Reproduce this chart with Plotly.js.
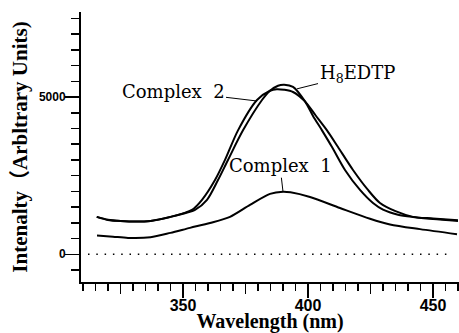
<!DOCTYPE html>
<html>
<head>
<meta charset="utf-8">
<script src="https://cdn.plot.ly/plotly-3.0.1.min.js"></script>
<style>html,body{margin:0;padding:0;background:#fff;}#chart{width:459px;height:333px;}</style>
</head>
<body>
<div id="chart"></div>
<script>
// Complex 2
const c2Wavelength = [315.5, 320, 325, 331, 337, 345, 350, 353.6, 357.6, 362.8, 366.8, 372, 379.6, 384.8, 387.5, 390.5, 394, 398.8, 403, 407.6, 412, 418, 424, 428.8, 435, 442, 450, 460];
const c2Intensity  = [1190, 1100, 1060, 1040, 1060, 1190, 1300, 1410, 1730, 2360, 3000, 3940, 4905, 5200, 5250, 5230, 5160, 4860, 4420, 3940, 3410, 2680, 2045, 1630, 1370, 1190, 1140, 1080];
// H8EDTP
const hWavelength = [315.5, 320, 325, 331, 337, 345, 350, 354.8, 359.6, 364, 368, 374, 381.6, 384.8, 388, 390.5, 394, 398.8, 402, 405.6, 409.6, 414.8, 420.8, 426, 430, 436, 442, 450, 460];
const hIntensity  = [1190, 1090, 1060, 1040, 1060, 1190, 1290, 1410, 1730, 2360, 3000, 3940, 4905, 5200, 5360, 5390, 5320, 4860, 4400, 3940, 3410, 2680, 2045, 1630, 1420, 1260, 1185, 1120, 1060];
// Complex 1
const c1Wavelength = [315.6, 322, 328, 337, 345, 352.8, 360.8, 368.8, 376.8, 384.8, 390, 393, 400.8, 412.8, 424.8, 432.8, 444.8, 459.6];
const c1Intensity  = [600, 560, 520, 540, 680, 840, 995, 1190, 1570, 1920, 1990, 1970, 1820, 1470, 1130, 950, 800, 640];

const xMajorTicks = [350, 400, 450];
const xMidTicks = [325, 375, 425];
const yMajorTicks = [0, 5000];

const lineStyle = {color: '#000', width: 2, shape: 'spline', smoothing: 0.8};
const traces = [
  {x: c2Wavelength, y: c2Intensity, mode: 'lines', line: lineStyle, name: 'Complex 2', hoverinfo: 'none'},
  {x: hWavelength, y: hIntensity, mode: 'lines', line: lineStyle, name: 'H8EDTP', hoverinfo: 'none', xaxis: 'x3'},
  {x: c1Wavelength, y: c1Intensity, mode: 'lines', line: lineStyle, name: 'Complex 1', hoverinfo: 'none', xaxis: 'x2', yaxis: 'y2'}
];

const xRange = [309.2, 460.4];
const yRange = [-881, 7703];
const annFont = {family: 'DejaVu Serif', size: 18, color: '#000'};
const tickCommon = {ticks: 'outside', tickwidth: 1.5, tickcolor: '#000', showgrid: false, zeroline: false};
const layout = {
  width: 459, height: 333,
  margin: {l: 81, r: 0, t: 12, b: 51},
  paper_bgcolor: '#fff', plot_bgcolor: '#fff',
  showlegend: false,
  xaxis: Object.assign({}, tickCommon, {
    range: xRange, tickvals: xMajorTicks, ticktext: xMajorTicks.map(String),
    ticklen: 8,
    showline: true, linewidth: 2, linecolor: '#000',
    tickfont: {family: 'Liberation Sans', size: 16, weight: 'bold', color: '#000'},
    minor: {dtick: 5, tick0: 350, ticks: 'outside', ticklen: 7, tickwidth: 1.5, tickcolor: '#000', showgrid: false},
    title: {text: 'Wavelength (nm)', font: {family: 'Liberation Serif', size: 20, weight: 'bold', color: '#000'}, standoff: 2}
  }),
  xaxis2: Object.assign({}, tickCommon, {
    overlaying: 'x', anchor: 'y', side: 'bottom', range: xRange,
    tickvals: xMidTicks, showticklabels: false, ticklen: 11, showline: false
  }),
  xaxis3: Object.assign({}, tickCommon, {
    overlaying: 'x', anchor: 'y', side: 'bottom', range: xRange,
    tickvals: xMajorTicks, showticklabels: false, ticklen: 15, showline: false
  }),
  yaxis: Object.assign({}, tickCommon, {
    range: yRange, tickvals: yMajorTicks, ticktext: yMajorTicks.map(String),
    ticklen: 11,
    showline: true, linewidth: 2, linecolor: '#000',
    tickfont: {family: 'Liberation Sans', size: 12, weight: 'bold', color: '#000'},
    minor: {dtick: 500, tick0: 0, ticks: 'outside', ticklen: 8, tickwidth: 1.5, tickcolor: '#000', showgrid: false},
    title: {text: 'Intenalty（Arbltrary Units)', font: {family: 'Liberation Serif, Noto Sans CJK SC', size: 21, weight: 'bold', color: '#000'}, standoff: 6}
  }),
  yaxis2: Object.assign({}, tickCommon, {
    overlaying: 'y', anchor: 'x', side: 'left', range: yRange,
    tickvals: yMajorTicks, showticklabels: false, ticklen: 15, showline: false
  }),
  shapes: [
    {type: 'line', xref: 'x', yref: 'y', x0: 312, x1: 457, y0: 0, y1: 0, line: {color: '#000', width: 1.5, dash: '1.5px,6.8px'}}
  ],
  annotations: [
    {x: 379.6, y: 4873, xref: 'x', yref: 'y', text: 'Complex  2', font: annFont, showarrow: true, arrowhead: 0, arrowwidth: 1, arrowcolor: '#000', ax: -84, ay: -10},
    {x: 395.6, y: 5260, xref: 'x', yref: 'y', text: 'H<sub>8</sub>EDTP', font: annFont, showarrow: true, arrowhead: 0, arrowwidth: 1, arrowcolor: '#000', ax: 60, ay: -15},
    {x: 390, y: 1990, xref: 'x', yref: 'y', text: 'Complex  1', font: annFont, showarrow: true, arrowhead: 0, arrowwidth: 1, arrowcolor: '#000', ax: -3, ay: -26}
  ]
};
Plotly.newPlot('chart', traces, layout, {displayModeBar: false, staticPlot: true});
</script>
</body>
</html>
